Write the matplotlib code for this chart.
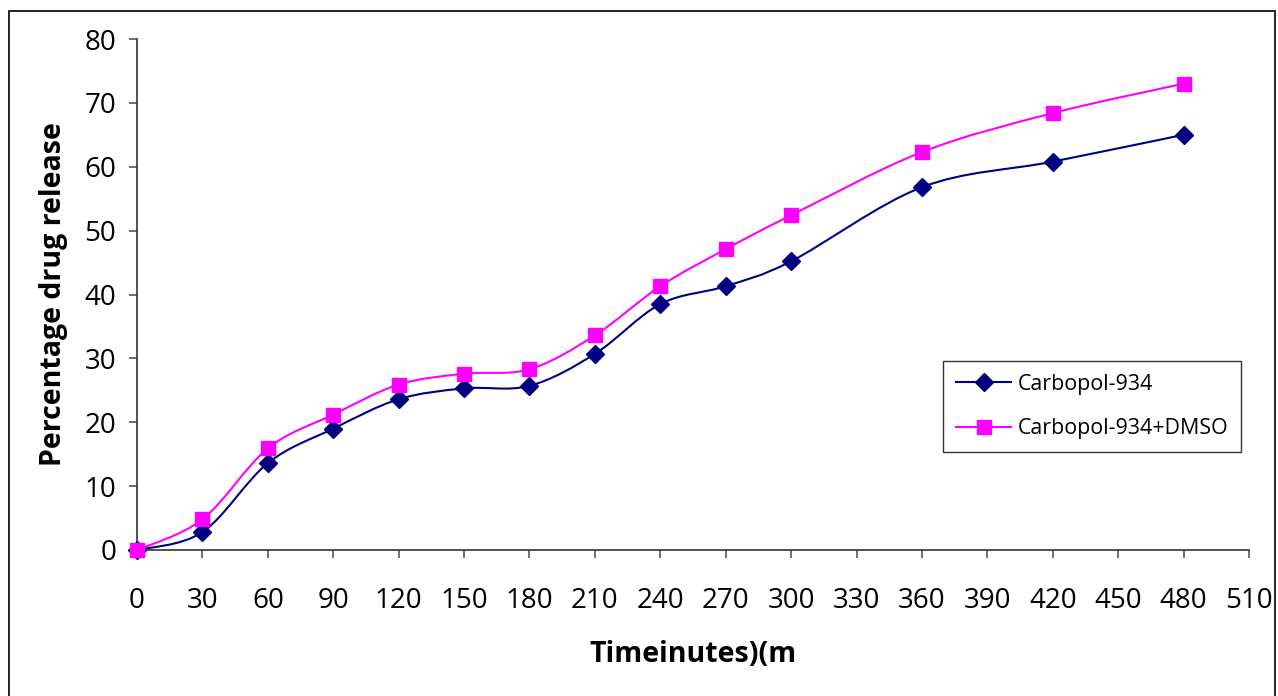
import numpy as np
import matplotlib
matplotlib.use("Agg")
import matplotlib.pyplot as plt
from matplotlib.path import Path
from matplotlib.patches import PathPatch, Rectangle
from matplotlib.lines import Line2D

plt.rcParams['font.family'] = ['Open Sans', 'DejaVu Sans']

# release data (minutes, % released)
time = [0, 30, 60, 90, 120, 150, 180, 210, 240, 270, 300, 360, 420, 480]
carbopol = [0, 2.8, 13.6, 19.0, 23.6, 25.3, 25.7, 30.7, 38.5, 41.3, 45.2, 56.8, 60.8, 65.0]
carbopol_dmso = [0, 4.8, 15.9, 21.2, 25.9, 27.6, 28.3, 33.6, 41.3, 47.1, 52.4, 62.3, 68.4, 73.0]

xticks = list(range(0, 511, 30))
yticks = list(range(0, 81, 10))


def smooth_path(x, y):
    # cubic bezier through every point, tangents from neighbours (spreadsheet-style smoothing)
    p = np.column_stack([x, y]).astype(float)
    n = len(p)
    verts = [p[0]]
    codes = [Path.MOVETO]
    for i in range(n - 1):
        p0 = p[max(i - 1, 0)]
        p1 = p[i]
        p2 = p[i + 1]
        p3 = p[min(i + 2, n - 1)]
        c1 = p1 + (p2 - p0) / 6.0
        c2 = p2 - (p3 - p1) / 6.0
        verts += [c1, c2, p2]
        codes += [Path.CURVE4] * 3
    return Path(verts, codes)


fig = plt.figure(figsize=(12.78, 6.96), dpi=100)
ax = fig.add_axes([137 / 1278, 1 - 550 / 696, (1249 - 137) / 1278, (550 - 39) / 696])

series = [
    (carbopol, "#000080", "D", 9.5, "Carbopol-934"),
    (carbopol_dmso, "#FF00FF", "s", 10, "Carbopol-934+DMSO"),
]
handles = []
for vals, color, marker, ms, label in series:
    ax.add_patch(PathPatch(smooth_path(time, vals), facecolor="none", edgecolor=color,
                           lw=1.5, zorder=2))
    ax.plot(time, vals, linestyle="none", marker=marker, ms=ms, color=color, zorder=3,
            clip_on=False)
    handles.append(Line2D([], [], color=color, lw=1.5, marker=marker, ms=ms, label=label))

ax.set_xlim(0, 510)
ax.set_ylim(0, 80)
ax.set_xticks(xticks)
ax.set_yticks(yticks)
ax.spines['top'].set_visible(False)
ax.spines['right'].set_visible(False)
for s in ['left', 'bottom']:
    ax.spines[s].set_color("#333333")
    ax.spines[s].set_linewidth(1.2)
ax.tick_params(axis='both', direction='out', length=6, width=1.2, color="#555555",
               labelsize=20)
ax.tick_params(axis='x', pad=21)
ax.tick_params(axis='y', pad=9)

ax.set_xlabel("Timeinutes)(m", fontsize=20.5, fontweight='bold', labelpad=18)
ax.set_ylabel("Percentage drug release", fontsize=20.5, fontweight='bold', labelpad=12)

leg = fig.legend(handles=handles, loc='upper left',
                 bbox_to_anchor=(943 / 1278, 1 - 361 / 696), borderaxespad=0,
                 fontsize=15.4, frameon=True, fancybox=False, edgecolor="black",
                 handlelength=2.6, handletextpad=0.3, borderpad=0.6, labelspacing=1.1)
leg.get_frame().set_linewidth(1.0)

# chart border
fig.patches.append(Rectangle((9 / 1278, -0.1), (1275 - 9) / 1278, 1.1 - 11 / 696,
                             transform=fig.transFigure, fill=False, edgecolor="black",
                             lw=1.2))

fig.savefig("out.png", dpi=100)
